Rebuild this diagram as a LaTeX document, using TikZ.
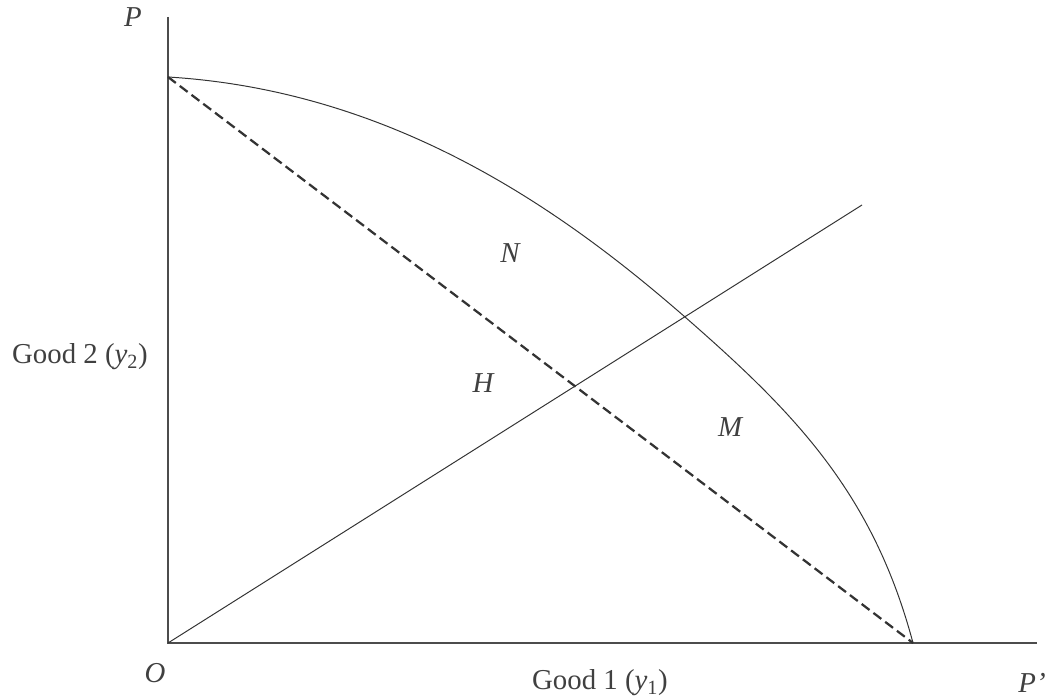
\documentclass[tikz,border=0pt]{standalone}
\usepackage{fontspec}
\setmainfont{Liberation Serif}
\tikzset{axis/.style={draw=black!70,line width=1.1pt},
 thin line/.style={draw=black!80,line width=0.7pt},
 budget/.style={draw=black!80,line width=1.6pt,dash pattern=on 7pt off 3.5pt},
 lbl/.style={font=\fontsize{20.5}{24}\selectfont,text=black!75,inner sep=1pt}}
\begin{document}
\begin{tikzpicture}[x=0.025cm,y=0.025cm]
 \useasboundingbox (-168,-54) rectangle (881,643);
 \coordinate (O) at (0,0);
 \coordinate (ytop) at (0,626);
 \coordinate (xend) at (869,0);
 \coordinate (A) at (0,566);
 \coordinate (B) at (745,0);
 \coordinate (C) at (517,326);
 \coordinate (ray) at (694,438);
 \draw[axis] (ytop) -- (O) -- (xend);
 \draw[budget] (A) -- (B);
 \draw[thin line] (O) -- (ray);
 \draw[thin line] (A) .. controls (230,552) and (400,428) .. (C)
  .. controls (627,230) and (705,150) .. (B);
 \node[lbl] (lP) at (-35,626) {\itshape P};
 \node[lbl] (lO) at (-13,-30) {\itshape O};
 \node[lbl] (lPp) at (864,-40) {\itshape P'};
 \node[lbl] (good1) at (432,-40) {Good 1 (\itshape y\textsubscript{\upshape 1}\upshape)};
 \node[lbl] (good2) at (-88,286) {Good 2 (\itshape y\textsubscript{\upshape 2}\upshape)};
 \node[lbl] (N) at (342,390) {\itshape N};
 \node[lbl] (H) at (315,260) {\itshape H};
 \node[lbl] (M) at (562,216) {\itshape M};
\end{tikzpicture}
\end{document}
